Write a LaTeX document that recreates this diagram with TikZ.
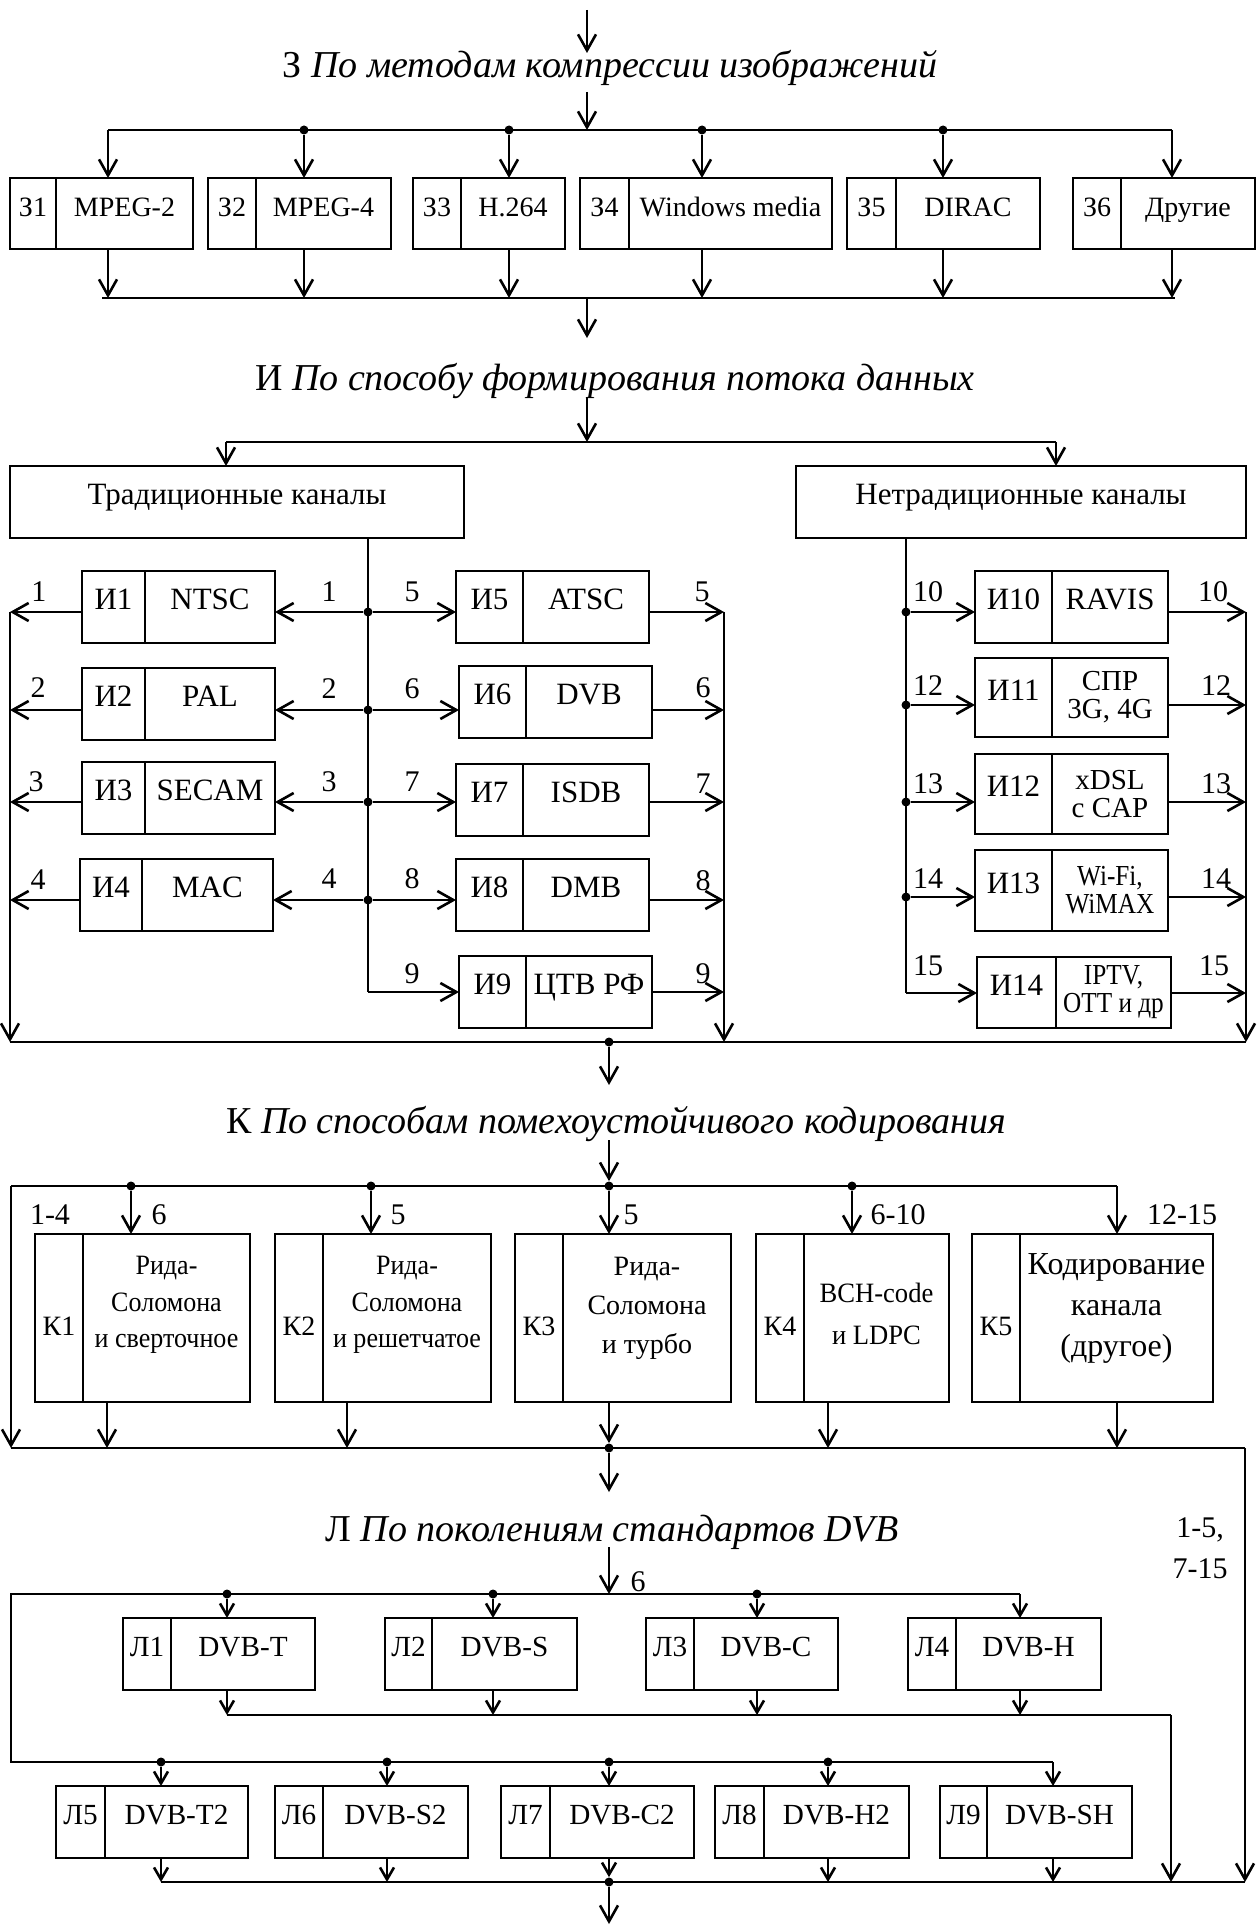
\documentclass[tikz,border=0pt]{standalone}
\usepackage{fontspec}
\setmainfont{Liberation Serif}
\usetikzlibrary{arrows.meta, positioning}
\newcommand{\headfont}{\fontsize{19}{22}\selectfont}
\newcommand{\numfont}{\fontsize{15}{17}\selectfont}
\newcommand{\zsecfont}{\fontsize{14}{16}\selectfont}
\newcommand{\isecfont}{\fontsize{15.5}{17}\selectfont}
\newcommand{\lsecfont}{\fontsize{14.6}{17}\selectfont}
\newcommand{\tightfont}{\addfontfeature{FakeStretch=0.87}}
\tikzset{
  cell/.style={rectangle, draw, line width=1.3pt, outer sep=0pt, inner sep=1pt,
    text height=10.5pt, text depth=7.8pt},
  mcell/.style={rectangle, draw, line width=1.3pt, outer sep=0pt, inner sep=1pt,
    align=center, font=\fontsize{14.5}{14}\selectfont},
  head/.style={font=\headfont, anchor=base, inner sep=0pt},
  num/.style={font=\numfont, anchor=base, inner sep=0pt},
  junc/.style={circle, fill, inner sep=0pt, minimum size=4.5pt},
  arrow/.style={-{Straight Barb[length=8pt, width=9pt]}, line width=1.3pt},
  sarrow/.style={-{Straight Barb[length=6pt, width=7pt]}, line width=1.3pt},
  line/.style={line width=1.3pt}
}

\begin{document}
\begin{tikzpicture}[x=0.5pt, y=-0.5pt,
  zcell/.style={cell, font=\zsecfont, minimum height=35.5pt},
  icell/.style={cell, font=\isecfont, minimum height=36pt},
  lcell/.style={cell, font=\lsecfont, minimum height=36pt},
  kid/.style={cell, font=\zsecfont, minimum height=84pt, minimum width=24pt,
    text height=18pt, text depth=0.8pt},
  kcell/.style={rectangle, draw, line width=1.3pt, outer sep=0pt, minimum height=84pt},
  ktext/.style={align=center, inner sep=0pt}]
  \useasboundingbox (0,0) rectangle (1258,1926);

  % З: compression methods
  \coordinate (zin) at (587,10);
  \coordinate (zine) at (587,53);
  \draw[arrow] (zin) -- (zine);
  \node[head] (hz) at (610,78) {З \textit{По методам компрессии изображений}};
  \coordinate (zs) at (587,92);
  \coordinate (zbl) at (108,130);
  \coordinate (zbr) at (1172,130);
  \draw[line] (zbl) -- (zbr);
  \draw[arrow] (zs) -- (zs |- zbl);
  \node[junc] (zd2) at (304,130) {};
  \node[junc] (zd3) at (509,130) {};
  \node[junc] (zd4) at (702,130) {};
  \node[junc] (zd5) at (943,130) {};

  \node[zcell, anchor=north west, minimum width=23pt] (z1i) at (10,178) {З1};
  \node[zcell, right=0pt of z1i, minimum width=68.5pt] (z1) {MPEG-2};
  \node[zcell, anchor=north west, minimum width=24pt] (z2i) at (208,178) {З2};
  \node[zcell, right=0pt of z2i, minimum width=67.5pt] (z2) {MPEG-4};
  \node[zcell, anchor=north west, minimum width=24pt] (z3i) at (413,178) {З3};
  \node[zcell, right=0pt of z3i, minimum width=52pt] (z3) {H.264};
  \node[zcell, anchor=north west, minimum width=24.5pt] (z4i) at (580,178) {З4};
  \node[zcell, right=0pt of z4i, minimum width=101.5pt, inner sep=0pt] (z4) {Windows media};
  \node[zcell, anchor=north west, minimum width=24.5pt] (z5i) at (847,178) {З5};
  \node[zcell, right=0pt of z5i, minimum width=72pt] (z5) {DIRAC};
  \node[zcell, anchor=north west, minimum width=24pt] (z6i) at (1073,178) {З6};
  \node[zcell, right=0pt of z6i, minimum width=67pt] (z6) {Другие};

  \draw[arrow] (zbl) -- (zbl |- z1.north);
  \draw[arrow] (zd2) -- (zd2 |- z2.north);
  \draw[arrow] (zd3) -- (zd3 |- z3.north);
  \draw[arrow] (zd4) -- (zd4 |- z4.north);
  \draw[arrow] (zd5) -- (zd5 |- z5.north);
  \draw[arrow] (zbr) -- (zbr |- z6.north);

  \coordinate (zol) at (102,298);
  \coordinate (zor) at (1175,298);
  \coordinate (zom) at (587,298);
  \draw[line] (zol) -- (zor);
  \draw[arrow] (zbl |- z1.south) -- (zbl |- zol);
  \draw[arrow] (zd2 |- z2.south) -- (zd2 |- zol);
  \draw[arrow] (zd3 |- z3.south) -- (zd3 |- zol);
  \draw[arrow] (zd4 |- z4.south) -- (zd4 |- zol);
  \draw[arrow] (zd5 |- z5.south) -- (zd5 |- zol);
  \draw[arrow] (zbr |- z6.south) -- (zbr |- zol);
  \coordinate (zout) at (587,338);
  \draw[arrow] (zom) -- (zout);

  % И: data stream forming
  \node[head] (hi) at (615,390) {И \textit{По способу формирования потока данных}};
  \coordinate (is) at (587,397);
  \coordinate (ibl) at (226,442);
  \coordinate (ibr) at (1056,442);
  \draw[line] (ibl) -- (ibr);
  \draw[arrow] (is) -- (is |- ibl);
  \node[icell, anchor=north west, minimum width=227pt] (trad) at (10,466) {Традиционные каналы};
  \node[icell, anchor=north west, minimum width=225pt] (ntrad) at (796,466) {Нетрадиционные каналы};
  \draw[arrow] (ibl) -- (ibl |- trad.north);
  \draw[arrow] (ibr) -- (ibr |- ntrad.north);

  % traditional channels
  \coordinate (ta) at (368,992);
  \draw[line] (ta |- trad.south) -- (ta);
  \node[junc] (td1) at (368,612) {};
  \node[junc] (td2) at (368,710) {};
  \node[junc] (td3) at (368,802) {};
  \node[junc] (td4) at (368,900) {};

  \node[icell, anchor=north west, minimum width=31.5pt] (i1i) at (82,571) {И1};
  \node[icell, right=0pt of i1i, minimum width=65pt] (i1) {NTSC};
  \node[icell, anchor=north west, minimum width=31.5pt] (i2i) at (82,668) {И2};
  \node[icell, right=0pt of i2i, minimum width=65pt] (i2) {PAL};
  \node[icell, anchor=north west, minimum width=31.5pt] (i3i) at (82,762) {И3};
  \node[icell, right=0pt of i3i, minimum width=65pt] (i3) {SECAM};
  \node[icell, anchor=north west, minimum width=31pt] (i4i) at (80,859) {И4};
  \node[icell, right=0pt of i4i, minimum width=65.5pt] (i4) {MAC};
  \node[icell, anchor=north west, minimum width=33.5pt] (i5i) at (456,571) {И5};
  \node[icell, right=0pt of i5i, minimum width=63pt] (i5) {ATSC};
  \node[icell, anchor=north west, minimum width=33.5pt] (i6i) at (459,666) {И6};
  \node[icell, right=0pt of i6i, minimum width=63pt] (i6) {DVB};
  \node[icell, anchor=north west, minimum width=33.5pt] (i7i) at (456,764) {И7};
  \node[icell, right=0pt of i7i, minimum width=63pt] (i7) {ISDB};
  \node[icell, anchor=north west, minimum width=33.5pt] (i8i) at (456,859) {И8};
  \node[icell, right=0pt of i8i, minimum width=63pt] (i8) {DMB};
  \node[icell, anchor=north west, minimum width=33.5pt] (i9i) at (459,956) {И9};
  \node[icell, right=0pt of i9i, minimum width=63pt] (i9) {ЦТВ РФ};

  \draw[arrow] (td1) -- (td1 -| i1.east);
  \draw[arrow] (td1) -- (td1 -| i5i.west);
  \draw[arrow] (td2) -- (td2 -| i2.east);
  \draw[arrow] (td2) -- (td2 -| i6i.west);
  \draw[arrow] (td3) -- (td3 -| i3.east);
  \draw[arrow] (td3) -- (td3 -| i7i.west);
  \draw[arrow] (td4) -- (td4 -| i4.east);
  \draw[arrow] (td4) -- (td4 -| i8i.west);
  \draw[arrow] (ta) -- (ta -| i9i.west);

  \coordinate (ilt) at (10,612);
  \coordinate (ilb) at (10,1042);
  \coordinate (irt) at (724,612);
  \coordinate (irb) at (724,1042);
  \draw[arrow] (ilt) -- (ilb);
  \draw[arrow] (irt) -- (irb);
  \draw[arrow] (i1i.west |- td1) -- (ilt |- td1);
  \draw[arrow] (i2i.west |- td2) -- (ilt |- td2);
  \draw[arrow] (i3i.west |- td3) -- (ilt |- td3);
  \draw[arrow] (i4i.west |- td4) -- (ilt |- td4);
  \draw[arrow] (i5.east |- td1) -- (irt |- td1);
  \draw[arrow] (i6.east |- td2) -- (irt |- td2);
  \draw[arrow] (i7.east |- td3) -- (irt |- td3);
  \draw[arrow] (i8.east |- td4) -- (irt |- td4);
  \draw[arrow] (i9.east |- ta) -- (irt |- ta);

  \node[num] (lo1) at (39,601) {1};
  \node[num] (lo2) at (38,697) {2};
  \node[num] (lo3) at (36,791) {3};
  \node[num] (lo4) at (38,889) {4};
  \node[num] (lt1) at (329,601) {1};
  \node[num] (lt2) at (329,698) {2};
  \node[num] (lt3) at (329,791) {3};
  \node[num] (lt4) at (329,888) {4};
  \node[num] (rt5) at (412,601) {5};
  \node[num] (rt6) at (412,698) {6};
  \node[num] (rt7) at (412,791) {7};
  \node[num] (rt8) at (412,888) {8};
  \node[num] (rt9) at (412,983) {9};
  \node[num] (ro5) at (702,601) {5};
  \node[num] (ro6) at (703,697) {6};
  \node[num] (ro7) at (703,793) {7};
  \node[num] (ro8) at (703,890) {8};
  \node[num] (ro9) at (703,983) {9};

  % non-traditional channels
  \coordinate (tb) at (906,993);
  \draw[line] (tb |- ntrad.south) -- (tb);
  \node[junc] (nd10) at (906,612) {};
  \node[junc] (nd12) at (906,705) {};
  \node[junc] (nd13) at (906,802) {};
  \node[junc] (nd14) at (906,897) {};

  \node[icell, anchor=north west, minimum width=38.5pt] (i10i) at (975,571) {И10};
  \node[icell, right=0pt of i10i, minimum width=58pt] (i10) {RAVIS};
  \node[icell, anchor=north west, minimum width=38.5pt, minimum height=39.5pt] (i11i) at (975,658) {И11};
  \node[mcell, right=0pt of i11i, minimum width=58pt, minimum height=39.5pt] (i11) {СПР\\3G, 4G};
  \node[icell, anchor=north west, minimum width=38.5pt, minimum height=40pt] (i12i) at (975,754) {И12};
  \node[mcell, right=0pt of i12i, minimum width=58pt, minimum height=40pt] (i12) {xDSL\\с CAP};
  \node[icell, anchor=north west, minimum width=38.5pt, minimum height=40.5pt] (i13i) at (975,850) {И13};
  \node[mcell, right=0pt of i13i, minimum width=58pt, minimum height=40.5pt] (i13) {\tightfont Wi-Fi,\\\tightfont WiMAX};
  \node[icell, anchor=north west, minimum width=39.5pt, minimum height=35.5pt] (i14i) at (977,957) {И14};
  \node[mcell, right=0pt of i14i, minimum width=57.5pt, minimum height=35.5pt] (i14) {\tightfont IPTV,\\\tightfont OTT и др};

  \draw[arrow] (nd10) -- (nd10 -| i10i.west);
  \draw[arrow] (nd12) -- (nd12 -| i11i.west);
  \draw[arrow] (nd13) -- (nd13 -| i12i.west);
  \draw[arrow] (nd14) -- (nd14 -| i13i.west);
  \draw[arrow] (tb) -- (tb -| i14i.west);

  \coordinate (jrt) at (1246,612);
  \coordinate (jrb) at (1246,1042);
  \draw[arrow] (jrt) -- (jrb);
  \draw[arrow] (i10.east |- nd10) -- (jrt |- nd10);
  \draw[arrow] (i11.east |- nd12) -- (jrt |- nd12);
  \draw[arrow] (i12.east |- nd13) -- (jrt |- nd13);
  \draw[arrow] (i13.east |- nd14) -- (jrt |- nd14);
  \draw[arrow] (i14.east |- tb) -- (jrt |- tb);

  \node[num] (nl10) at (928,601) {10};
  \node[num] (nl12) at (928,695) {12};
  \node[num] (nl13) at (928,793) {13};
  \node[num] (nl14) at (928,888) {14};
  \node[num] (nl15) at (928,975) {15};
  \node[num] (nr10) at (1213,601) {10};
  \node[num] (nr12) at (1216,695) {12};
  \node[num] (nr13) at (1216,793) {13};
  \node[num] (nr14) at (1216,888) {14};
  \node[num] (nr15) at (1214,975) {15};

  \draw[line] (ilb) -- (jrb);
  \node[junc] (ibd) at (609,1042) {};
  \coordinate (kin) at (609,1085);
  \draw[arrow] (ibd) -- (kin);

  % К: error-correcting coding
  \node[head] (hk) at (616,1133) {К \textit{По способам помехоустойчивого кодирования}};
  \coordinate (ks) at (609,1140);
  \coordinate (kbl) at (11,1186);
  \coordinate (kbr) at (1117,1186);
  \draw[line] (kbl) -- (kbr);
  \node[junc] (kd1) at (131,1186) {};
  \node[junc] (kd2) at (371,1186) {};
  \node[junc] (kd3) at (609,1186) {};
  \node[junc] (kd4) at (852,1186) {};
  \draw[arrow] (ks) -- (kd3);

  \node[kid, anchor=north west] (k1i) at (35,1234) {К1};
  \node[kcell, right=0pt of k1i, minimum width=83.5pt] (k1) {};
  \node[ktext, font=\fontsize{14}{18.3}\selectfont\addfontfeature{FakeStretch=0.93}] (k1t)
    at ([yshift=6.5pt]k1.center) {Рида-\\Соломона\\и сверточное};
  \node[kid, anchor=north west] (k2i) at (275,1234) {К2};
  \node[kcell, right=0pt of k2i, minimum width=84pt] (k2) {};
  \node[ktext, font=\fontsize{14}{18.3}\selectfont\addfontfeature{FakeStretch=0.93}] (k2t)
    at ([yshift=6.5pt]k2.center) {Рида-\\Соломона\\и решетчатое};
  \node[kid, anchor=north west] (k3i) at (515,1234) {К3};
  \node[kcell, right=0pt of k3i, minimum width=84pt] (k3) {};
  \node[ktext, font=\fontsize{14}{19.5}\selectfont] (k3t)
    at ([yshift=5pt]k3.center) {Рида-\\Соломона\\и турбо};
  \node[kid, anchor=north west] (k4i) at (756,1234) {К4};
  \node[kcell, right=0pt of k4i, minimum width=72.5pt] (k4) {};
  \node[ktext, font=\fontsize{14}{21}\selectfont\addfontfeature{FakeStretch=0.95}] (k4t)
    at ([yshift=2pt]k4.center) {BCH-code\\и LDPC};
  \node[kid, anchor=north west] (k5i) at (972,1234) {К5};
  \node[kcell, right=0pt of k5i, minimum width=96.5pt] (k5) {};
  \node[ktext, font=\fontsize{16}{20.5}\selectfont] (k5t)
    at ([yshift=5pt]k5.center) {Кодирование\\канала\\(другое)};

  \draw[arrow] (kd1) -- (kd1 |- k1.north);
  \draw[arrow] (kd2) -- (kd2 |- k2.north);
  \draw[arrow] (kd3) -- (kd3 |- k3.north);
  \draw[arrow] (kd4) -- (kd4 |- k4.north);
  \draw[arrow] (kbr) -- (kbr |- k5.north);

  \node[num] (kl14) at (50,1224) {1-4};
  \node[num] (kl1) at (159,1224) {6};
  \node[num] (kl2) at (398,1224) {5};
  \node[num] (kl3) at (631,1224) {5};
  \node[num] (kl4) at (898,1224) {6-10};
  \node[num] (kl5) at (1182,1224) {12-15};

  \coordinate (kbbl) at (11,1448);
  \coordinate (kbbr) at (1245,1448);
  \draw[arrow] (kbl) -- (kbbl);
  \draw[line] (kbbl) -- (kbbr);
  \coordinate (ko1) at (107,1448);
  \coordinate (ko2) at (347,1448);
  \node[junc] (kod) at (609,1448) {};
  \coordinate (ko4) at (828,1448);
  \draw[arrow] (ko1 |- k1.south) -- (ko1);
  \draw[arrow] (ko2 |- k2.south) -- (ko2);
  \draw[arrow] (kod |- k3.south) -- (kod);
  \draw[arrow] (ko4 |- k4.south) -- (ko4);
  \draw[arrow] (kbr |- k5.south) -- (kbr |- kbbl);
  \coordinate (lin) at (609,1492);
  \draw[arrow] (kod) -- (lin);
  \node[num] (kr1) at (1200,1537) {1-5,};
  \node[num] (kr2) at (1200,1578) {7-15};

  % Л: DVB generations
  \node[head] (hl) at (612,1541) {Л \textit{По поколениям стандартов DVB}};
  \coordinate (ls) at (609,1547);
  \coordinate (lb1m) at (609,1594);
  \draw[arrow] (ls) -- (lb1m);
  \node[num] (lsix) at (638,1591) {6};
  \coordinate (lb1l) at (11,1594);
  \coordinate (lb1r) at (1020,1594);
  \coordinate (lb2l) at (11,1762);
  \coordinate (lb2r) at (1053,1762);
  \draw[line] (lb1r) -- (lb1l) -- (lb2l) -- (lb2r);
  \node[junc] (ld1) at (227,1594) {};
  \node[junc] (ld2) at (493,1594) {};
  \node[junc] (ld3) at (757,1594) {};
  \node[junc] (ld5) at (161,1762) {};
  \node[junc] (ld6) at (387,1762) {};
  \node[junc] (ld7) at (609,1762) {};
  \node[junc] (ld8) at (828,1762) {};

  \node[lcell, anchor=north west, minimum width=24pt] (l1i) at (123,1618) {Л1};
  \node[lcell, right=0pt of l1i, minimum width=72pt] (l1) {DVB-T};
  \node[lcell, anchor=north west, minimum width=23.5pt] (l2i) at (385,1618) {Л2};
  \node[lcell, right=0pt of l2i, minimum width=72.5pt] (l2) {DVB-S};
  \node[lcell, anchor=north west, minimum width=24pt] (l3i) at (646,1618) {Л3};
  \node[lcell, right=0pt of l3i, minimum width=72pt] (l3) {DVB-C};
  \node[lcell, anchor=north west, minimum width=24pt] (l4i) at (908,1618) {Л4};
  \node[lcell, right=0pt of l4i, minimum width=72.5pt] (l4) {DVB-H};

  \draw[sarrow] (ld1) -- (ld1 |- l1.north);
  \draw[sarrow] (ld2) -- (ld2 |- l2.north);
  \draw[sarrow] (ld3) -- (ld3 |- l3.north);
  \draw[sarrow] (lb1r) -- (lb1r |- l4.north);

  \coordinate (lm1) at (227,1715);
  \coordinate (lmr) at (1171,1715);
  \draw[line] (lm1) -- (lmr);
  \draw[sarrow] (ld1 |- l1.south) -- (lm1);
  \draw[sarrow] (ld2 |- l2.south) -- (ld2 |- lm1);
  \draw[sarrow] (ld3 |- l3.south) -- (ld3 |- lm1);
  \draw[sarrow] (lb1r |- l4.south) -- (lb1r |- lm1);

  \node[lcell, anchor=north west, minimum width=24.5pt] (l5i) at (56,1786) {Л5};
  \node[lcell, right=0pt of l5i, minimum width=71.5pt] (l5) {DVB-T2};
  \node[lcell, anchor=north west, minimum width=24pt] (l6i) at (275,1786) {Л6};
  \node[lcell, right=0pt of l6i, minimum width=72.5pt] (l6) {DVB-S2};
  \node[lcell, anchor=north west, minimum width=24.5pt] (l7i) at (501,1786) {Л7};
  \node[lcell, right=0pt of l7i, minimum width=72pt] (l7) {DVB-C2};
  \node[lcell, anchor=north west, minimum width=24.5pt] (l8i) at (715,1786) {Л8};
  \node[lcell, right=0pt of l8i, minimum width=72.5pt] (l8) {DVB-H2};
  \node[lcell, anchor=north west, minimum width=23.5pt] (l9i) at (940,1786) {Л9};
  \node[lcell, right=0pt of l9i, minimum width=72.5pt] (l9) {DVB-SH};

  \draw[sarrow] (ld5) -- (ld5 |- l5.north);
  \draw[sarrow] (ld6) -- (ld6 |- l6.north);
  \draw[sarrow] (ld7) -- (ld7 |- l7.north);
  \draw[sarrow] (ld8) -- (ld8 |- l8.north);
  \draw[sarrow] (lb2r) -- (lb2r |- l9.north);

  \coordinate (lbl) at (161,1882);
  \coordinate (lbr) at (1245,1882);
  \draw[line] (lbl) -- (lbr);
  \node[junc] (lbd) at (609,1882) {};
  \draw[sarrow] (ld5 |- l5.south) -- (lbl);
  \draw[sarrow] (ld6 |- l6.south) -- (ld6 |- lbl);
  \draw[sarrow] (ld7 |- l7.south) -- (lbd);
  \draw[sarrow] (ld8 |- l8.south) -- (ld8 |- lbl);
  \draw[sarrow] (lb2r |- l9.south) -- (lb2r |- lbl);
  \draw[arrow] (lmr) -- (lmr |- lbl);
  \draw[arrow] (kbbr) -- (lbr);
  \coordinate (lend) at (609,1924);
  \draw[arrow] (lbd) -- (lend);
\end{tikzpicture}
\end{document}
